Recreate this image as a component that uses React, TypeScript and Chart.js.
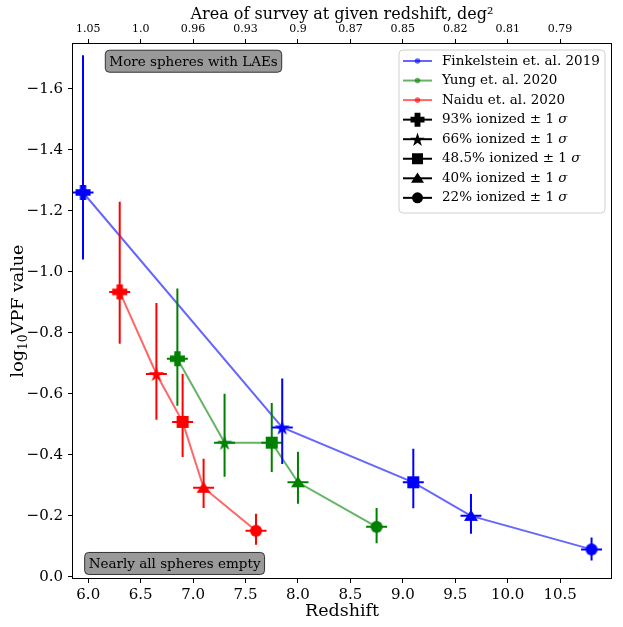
import { useEffect, useRef } from 'react';
import { Chart, registerables } from 'chart.js';

Chart.register(...registerables);

// Finkelstein et. al. 2019
const finkZ = [5.95, 7.85, 9.1, 9.65, 10.8];
const finkVpf = [-1.26, -0.49, -0.31, -0.2, -0.09];
const finkErrUp = [0.45, 0.16, 0.11, 0.072, 0.039];
const finkErrDown = [0.22, 0.12, 0.085, 0.059, 0.036];

// Yung et. al. 2020
const yungZ = [6.85, 7.3, 7.75, 8.0, 8.75];
const yungVpf = [-0.715, -0.44, -0.44, -0.31, -0.164];
const yungErrUp = [0.23, 0.16, 0.13, 0.1, 0.062];
const yungErrDown = [0.154, 0.112, 0.096, 0.07, 0.054];

// Naidu et. al. 2020
const naiduZ = [6.3, 6.65, 6.9, 7.1, 7.6];
const naiduVpf = [-0.934, -0.665, -0.508, -0.292, -0.151];
const naiduErrUp = [0.296, 0.233, 0.157, 0.095, 0.056];
const naiduErrDown = [0.17, 0.15, 0.115, 0.066, 0.046];

const zErr = 0.1;

const ionLabels = ['93% ionized', '66% ionized', '48.5% ionized', '40% ionized', '22% ionized'];
const markerShapes = ['plus', 'star', 'square', 'triangle', 'circle'];
const markerSizes = [15, 16, 12, 14, 12];

const redshiftTicks = [6.0, 6.5, 7.0, 7.5, 8.0, 8.5, 9.0, 9.5, 10.0, 10.5];
const areaTickLabels = ['1.05', '1.0', '0.96', '0.93', '0.9', '0.87', '0.85', '0.82', '0.81', '0.79'];
const vpfTicks = [-1.6, -1.4, -1.2, -1.0, -0.8, -0.6, -0.4, -0.2, 0.0];

const X_MIN = 5.845;
const X_MAX = 10.995;
const Y_MIN = -1.75;
const Y_MAX = 0.007;

const FONT = "'DejaVu Serif', serif";

const series = [
  { label: 'Finkelstein et. al. 2019', color: '#0000ff', line: 'rgba(0,0,255,0.6)', z: finkZ, v: finkVpf, up: finkErrUp, down: finkErrDown },
  { label: 'Yung et. al. 2020', color: '#008000', line: 'rgba(0,128,0,0.6)', z: yungZ, v: yungVpf, up: yungErrUp, down: yungErrDown },
  { label: 'Naidu et. al. 2020', color: '#ff0000', line: 'rgba(255,0,0,0.6)', z: naiduZ, v: naiduVpf, up: naiduErrUp, down: naiduErrDown },
];

function drawMarker(ctx: CanvasRenderingContext2D, shape: string, x: number, y: number, s: number, color: string) {
  const h = s / 2;
  ctx.save();
  ctx.fillStyle = color;
  ctx.beginPath();
  if (shape === 'plus') {
    const t = s * 0.21;
    const pts = [
      [-t, -h], [t, -h], [t, -t], [h, -t], [h, t], [t, t],
      [t, h], [-t, h], [-t, t], [-h, t], [-h, -t], [-t, -t],
    ];
    pts.forEach(([px, py], i) => (i ? ctx.lineTo(x + px, y + py) : ctx.moveTo(x + px, y + py)));
    ctx.closePath();
  } else if (shape === 'star') {
    for (let i = 0; i < 10; i++) {
      const r = i % 2 === 0 ? h : h * 0.382;
      const a = -Math.PI / 2 + (i * Math.PI) / 5;
      const px = x + r * Math.cos(a);
      const py = y + r * Math.sin(a) + h * 0.1;
      i ? ctx.lineTo(px, py) : ctx.moveTo(px, py);
    }
    ctx.closePath();
  } else if (shape === 'square') {
    ctx.rect(x - h, y - h, s, s);
  } else if (shape === 'triangle') {
    ctx.moveTo(x, y - h * 0.9);
    ctx.lineTo(x + h, y + h * 0.7);
    ctx.lineTo(x - h, y + h * 0.7);
    ctx.closePath();
  } else {
    ctx.arc(x, y, h, 0, Math.PI * 2);
  }
  ctx.fill();
  ctx.restore();
}

function makeMarker(shape: string, size: number, color: string) {
  const c = document.createElement('canvas');
  const d = Math.ceil(size) + 4;
  c.width = d;
  c.height = d;
  const ctx = c.getContext('2d');
  if (ctx) drawMarker(ctx, shape, d / 2, d / 2, size, color);
  return c;
}

function roundRect(ctx: CanvasRenderingContext2D, x: number, y: number, w: number, h: number, r: number) {
  ctx.beginPath();
  ctx.moveTo(x + r, y);
  ctx.lineTo(x + w - r, y);
  ctx.arcTo(x + w, y, x + w, y + r, r);
  ctx.lineTo(x + w, y + h - r);
  ctx.arcTo(x + w, y + h, x + w - r, y + h, r);
  ctx.lineTo(x + r, y + h);
  ctx.arcTo(x, y + h, x, y + h - r, r);
  ctx.lineTo(x, y + r);
  ctx.arcTo(x, y, x + r, y, r);
  ctx.closePath();
}

const errorBarPlugin = {
  id: 'errorBars',
  beforeDatasetDraw(chart: any, args: any) {
    const ds = chart.data.datasets[args.index];
    if (!ds.errUp) return;
    const { ctx, scales } = chart;
    ctx.save();
    ctx.strokeStyle = ds.errColor;
    ctx.lineWidth = 2;
    ds.data.forEach((p: any, i: number) => {
      const px = scales.x.getPixelForValue(p.x);
      const py = scales.y.getPixelForValue(p.y);
      ctx.beginPath();
      ctx.moveTo(px, scales.y.getPixelForValue(p.y - ds.errUp[i]));
      ctx.lineTo(px, scales.y.getPixelForValue(p.y + ds.errDown[i]));
      ctx.moveTo(scales.x.getPixelForValue(p.x - zErr), py);
      ctx.lineTo(scales.x.getPixelForValue(p.x + zErr), py);
      ctx.stroke();
    });
    ctx.restore();
  },
};

const decorPlugin = {
  id: 'decor',
  afterDraw(chart: any) {
    const { ctx, chartArea } = chart;
    const { left, right, top, bottom } = chartArea;
    const w = right - left;
    const h = bottom - top;

    // frame
    ctx.save();
    ctx.strokeStyle = '#000';
    ctx.lineWidth = 1;
    ctx.strokeRect(Math.round(left) + 0.5, Math.round(top) + 0.5, Math.round(w) - 1, Math.round(h) - 1);

    // y title with subscript
    const big = `17.5px ${FONT}`;
    const small = `12.5px ${FONT}`;
    ctx.font = big;
    const w1 = ctx.measureText('log').width;
    const w3 = ctx.measureText('VPF value').width;
    ctx.font = small;
    const w2 = ctx.measureText('10').width;
    const total = w1 + w2 + w3;
    ctx.translate(22.5, (top + bottom) / 2);
    ctx.rotate(-Math.PI / 2);
    ctx.fillStyle = '#000';
    ctx.textBaseline = 'alphabetic';
    ctx.textAlign = 'left';
    ctx.font = big;
    ctx.fillText('log', -total / 2, 0);
    ctx.font = small;
    ctx.fillText('10', -total / 2 + w1, 4);
    ctx.font = big;
    ctx.fillText('VPF value', -total / 2 + w1 + w2, 0);
    ctx.restore();

    // annotation boxes
    const boxes = [
      { text: 'More spheres with LAEs', fx: 0.225, fy: 0.034 },
      { text: 'Nearly all spheres empty', fx: 0.19, fy: 0.971 },
    ];
    ctx.save();
    ctx.font = `13.5px ${FONT}`;
    ctx.textAlign = 'center';
    ctx.textBaseline = 'middle';
    boxes.forEach((b) => {
      const cx = left + b.fx * w;
      const cy = top + b.fy * h;
      const tw = ctx.measureText(b.text).width + 8;
      roundRect(ctx, cx - tw / 2, cy - 11, tw, 22, 4);
      ctx.fillStyle = 'rgba(128,128,128,0.8)';
      ctx.fill();
      ctx.strokeStyle = '#333';
      ctx.lineWidth = 1;
      ctx.stroke();
      ctx.fillStyle = '#000';
      ctx.fillText(b.text, cx, cy + 1);
    });
    ctx.restore();

    // legend
    const lw = 206;
    const lh = 163;
    const lx = right - 7 - lw;
    const ly = top + 7;
    ctx.save();
    roundRect(ctx, lx, ly, lw, lh, 4);
    ctx.fillStyle = 'rgba(255,255,255,0.8)';
    ctx.fill();
    ctx.strokeStyle = '#d0d0d0';
    ctx.lineWidth = 1;
    ctx.stroke();
    const hx1 = lx + 4;
    const hx2 = lx + 33;
    const tx = lx + 43;
    const step = 19.55;
    ctx.textBaseline = 'middle';
    ctx.textAlign = 'left';
    series.forEach((s, i) => {
      const y = ly + 11 + i * step;
      ctx.strokeStyle = s.line;
      ctx.lineWidth = 2;
      ctx.beginPath();
      ctx.moveTo(hx1, y);
      ctx.lineTo(hx2, y);
      ctx.stroke();
      ctx.fillStyle = s.line;
      ctx.beginPath();
      ctx.arc((hx1 + hx2) / 2, y, 2.8, 0, Math.PI * 2);
      ctx.fill();
      ctx.fillStyle = '#000';
      ctx.font = `13.5px ${FONT}`;
      ctx.fillText(s.label, tx, y);
    });
    ionLabels.forEach((lab, j) => {
      const y = ly + 11 + (j + 3) * step;
      ctx.strokeStyle = '#000';
      ctx.lineWidth = 2;
      ctx.beginPath();
      ctx.moveTo(hx1, y);
      ctx.lineTo(hx2, y);
      ctx.stroke();
      drawMarker(ctx, markerShapes[j], (hx1 + hx2) / 2, y, markerSizes[j] - 1, '#000');
      ctx.fillStyle = '#000';
      ctx.font = `13.5px ${FONT}`;
      const t1 = `${lab} ± 1 `;
      ctx.fillText(t1, tx, y);
      const tw = ctx.measureText(t1).width;
      ctx.font = `italic 13.5px ${FONT}`;
      ctx.fillText('σ', tx + tw, y);
    });
    ctx.restore();
  },
};

export default function App() {
  const canvasRef = useRef<HTMLCanvasElement>(null);

  useEffect(() => {
    document.body.style.margin = '0';
    if (!canvasRef.current) return;

    const datasets: any[] = [];
    series.forEach((s) => {
      const pts = s.z.map((z, i) => ({ x: z, y: s.v[i] }));
      datasets.push({
        data: pts,
        showLine: true,
        borderColor: s.line,
        borderWidth: 2,
        pointRadius: 0,
        order: 10,
      });
      datasets.push({
        data: pts,
        showLine: false,
        pointStyle: markerShapes.map((m, i) => makeMarker(m, markerSizes[i], s.color)),
        pointRadius: 7,
        errUp: s.up,
        errDown: s.down,
        errColor: s.color,
        order: 1,
      });
    });

    const tickGrid = {
      display: true,
      drawOnChartArea: false,
      drawTicks: true,
      tickLength: 4,
      color: '#000',
      lineWidth: 1,
    };

    const chart = new Chart(canvasRef.current, {
      type: 'scatter',
      data: { datasets },
      plugins: [errorBarPlugin, decorPlugin],
      options: {
        animation: false,
        responsive: true,
        maintainAspectRatio: false,
        events: [],
        layout: { padding: { left: 0, right: 11, top: 0, bottom: 0 } },
        plugins: { legend: { display: false }, tooltip: { enabled: false } },
        scales: {
          x: {
            type: 'linear',
            position: 'bottom',
            min: X_MIN,
            max: X_MAX,
            afterBuildTicks: (axis: any) => {
              axis.ticks = redshiftTicks.map((v) => ({ value: v }));
            },
            afterFit: (axis: any) => {
              axis.height = 48;
            },
            ticks: {
              autoSkip: false,
              maxRotation: 0,
              padding: 3,
              color: '#000',
              font: { family: FONT, size: 15 },
              callback: (v: any) => Number(v).toFixed(1),
            },
            grid: tickGrid,
            border: { display: false },
            title: {
              display: true,
              text: 'Redshift',
              color: '#000',
              font: { family: FONT, size: 17.5 },
              padding: { top: 0, bottom: 5 },
            },
          },
          x2: {
            type: 'linear',
            position: 'top',
            min: X_MIN,
            max: X_MAX,
            afterBuildTicks: (axis: any) => {
              axis.ticks = redshiftTicks.map((v) => ({ value: v }));
            },
            afterFit: (axis: any) => {
              axis.height = 43;
            },
            ticks: {
              autoSkip: false,
              maxRotation: 0,
              padding: 3,
              color: '#000',
              font: { family: FONT, size: 11 },
              callback: (_v: any, i: number) => areaTickLabels[i],
            },
            grid: tickGrid,
            border: { display: false },
            title: {
              display: true,
              text: 'Area of survey at given redshift, deg²',
              color: '#000',
              font: { family: FONT, size: 16 },
              padding: { top: 5, bottom: 0 },
            },
          },
          y: {
            type: 'linear',
            reverse: true,
            min: Y_MIN,
            max: Y_MAX,
            afterBuildTicks: (axis: any) => {
              axis.ticks = vpfTicks.map((v) => ({ value: v }));
            },
            afterFit: (axis: any) => {
              axis.width = 72;
            },
            ticks: {
              padding: 5,
              color: '#000',
              font: { family: FONT, size: 15 },
              callback: (v: any) => (Number(v) < 0 ? '−' : '') + Math.abs(Number(v)).toFixed(1),
            },
            grid: tickGrid,
            border: { display: false },
          },
        },
      } as any,
    });

    return () => {
      chart.destroy();
    };
  }, []);

  return (
    <div style={{ position: 'relative', width: 623, height: 627 }}>
      <canvas ref={canvasRef} />
    </div>
  );
}
